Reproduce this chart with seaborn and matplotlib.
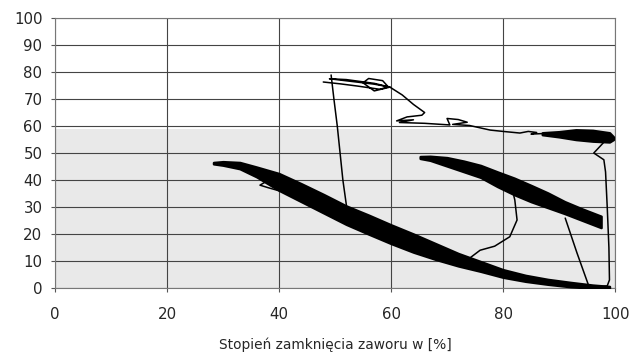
import matplotlib
matplotlib.use("Agg")
import matplotlib.pyplot as plt
import seaborn as sns
import numpy as np
import pandas as pd

# ---- data ----
# lower thick band (many overlapping cycles): x, upper edge, lower edge
low_x  = [28.3, 30, 33, 36, 38, 40, 44, 48, 52, 56, 60, 64, 68, 72, 76, 80, 84, 88, 92, 96, 99]
low_up = [46.5, 46.8, 46.5, 44.8, 43.6, 42.4, 38.6, 34.6, 30.4, 27, 23.4, 20, 16.4, 12.8, 9.8, 6.8, 4.7, 3.2, 2.1, 1.1, 0.6]
low_lo = [46.0, 45.5, 44.2, 41.2, 38.7, 36.2, 32, 27.8, 23.6, 20, 16.5, 13.3, 10.6, 8.2, 6.2, 4.0, 2.5, 1.4, 0.5, 0, 0]

# middle thick band
mid_x  = [65.2, 67, 70, 73, 76, 79, 82, 85, 88, 91, 94, 97.5]
mid_up = [48.7, 48.8, 48.3, 47, 45.4, 43, 40.7, 38, 35.2, 32, 29.4, 26.6]
mid_lo = [48.0, 47.3, 45.2, 43.1, 41, 37.6, 34.6, 32, 29.8, 27.6, 25.2, 22.4]

# upper right blob
top_x  = [87, 90, 93, 96, 99, 99.7]
top_up = [57.5, 57.9, 58.6, 58.4, 57.5, 56]
top_lo = [56.8, 56, 55, 54.4, 54.1, 55]

# thin trajectory segments
p1_x = [47.9, 51, 54, 56, 58, 59.5, 58.5, 56, 55, 57, 59.8, 57, 52, 49, 53, 57, 59.8,
        62, 64, 66, 65.5, 63, 62.9, 61, 64, 61.5, 66, 70.5, 70, 72, 73.6, 71, 74, 77.7,
        80, 83, 84.5, 86, 85, 87]
p1_y = [76.3, 75.6, 74.8, 74.2, 73.6, 74.5, 76.8, 77.6, 76, 73, 74.4, 75.8, 77.2, 77.5, 76.5, 75.5, 74.4,
        71.5, 68, 65, 64, 63.4, 63.4, 61.9, 62.3, 61.3, 61.0, 60.4, 62.8, 62.4, 61.4, 60.6, 60.2, 58.5,
        58.0, 57.4, 58.0, 57.6, 57.0, 57.2]
p2_x = [99.5, 98, 96.2, 98, 98.3, 98.6, 98.9, 99.0, 98.6, 96]
p2_y = [55.5, 54, 50, 47.5, 43, 30, 15, 3, 0.8, 0.3]
p3_x = [49.3, 49.8, 50.4, 50.9, 51.4, 52.1]
p3_y = [78.9, 70, 60, 50, 40, 29.6]
p4_x = [81.8, 82.1, 82.5, 81.2, 78.5, 75.9, 73.8]
p4_y = [35.2, 32.6, 25.2, 19, 15.5, 14, 10.7]
p5_x = [91.1, 93.2, 95.3]
p5_y = [25.9, 13, 0.8]
p6_x = [40, 37.5, 36.6, 38, 41.4, 44]
p6_y = [39.5, 39.2, 38.1, 37.2, 35.2, 34.5]

x_ticks = [0, 20, 40, 60, 80, 100]
y_ticks = [0, 10, 20, 30, 40, 50, 60, 70, 80, 90, 100]
x_label = "Stopień zamknięcia zaworu w [%]"

# ---- style ----
sns.set_style("white")
plt.rcParams['font.family'] = ['DejaVu Sans']

fig = plt.figure(figsize=(6.3, 3.53), dpi=100)
ax = fig.add_axes([0.0873, 0.184, 0.889, 0.765])

ax.axhspan(0, 59, color='#e9e9e9', zorder=0, lw=0)

for xs, up, lo in [(low_x, low_up, low_lo), (mid_x, mid_up, mid_lo), (top_x, top_up, top_lo)]:
    ax.fill_between(xs, lo, up, color='black', lw=1.8, edgecolor='black', zorder=3)

segs = []
for i, (xs, ys) in enumerate([(p1_x, p1_y), (p2_x, p2_y), (p3_x, p3_y), (p4_x, p4_y), (p5_x, p5_y), (p6_x, p6_y)]):
    segs.append(pd.DataFrame({'x': xs, 'y': ys, 'seg': i}))
df = pd.concat(segs, ignore_index=True)
sns.lineplot(data=df, x='x', y='y', units='seg', estimator=None, sort=False,
             color='black', lw=1.1, ax=ax, zorder=4, legend=False)

ax.set_xlim(0, 100)
ax.set_ylim(0, 100)
ax.set_xticks(x_ticks)
ax.set_yticks(y_ticks)
ax.grid(True, color='#444444', lw=0.8, zorder=1)
ax.set_axisbelow(True)
for s in ax.spines.values():
    s.set_color('#777777')
    s.set_linewidth(0.8)
ax.tick_params(axis='y', length=3, pad=6, labelsize=10.8, color='#555555', left=True)
ax.tick_params(axis='x', length=3, pad=11, labelsize=10.8, color='#555555', bottom=True)
ax.set_xlabel(x_label, fontsize=9.9, labelpad=11)
ax.set_ylabel('')

fig.savefig('out.png', dpi=100)
